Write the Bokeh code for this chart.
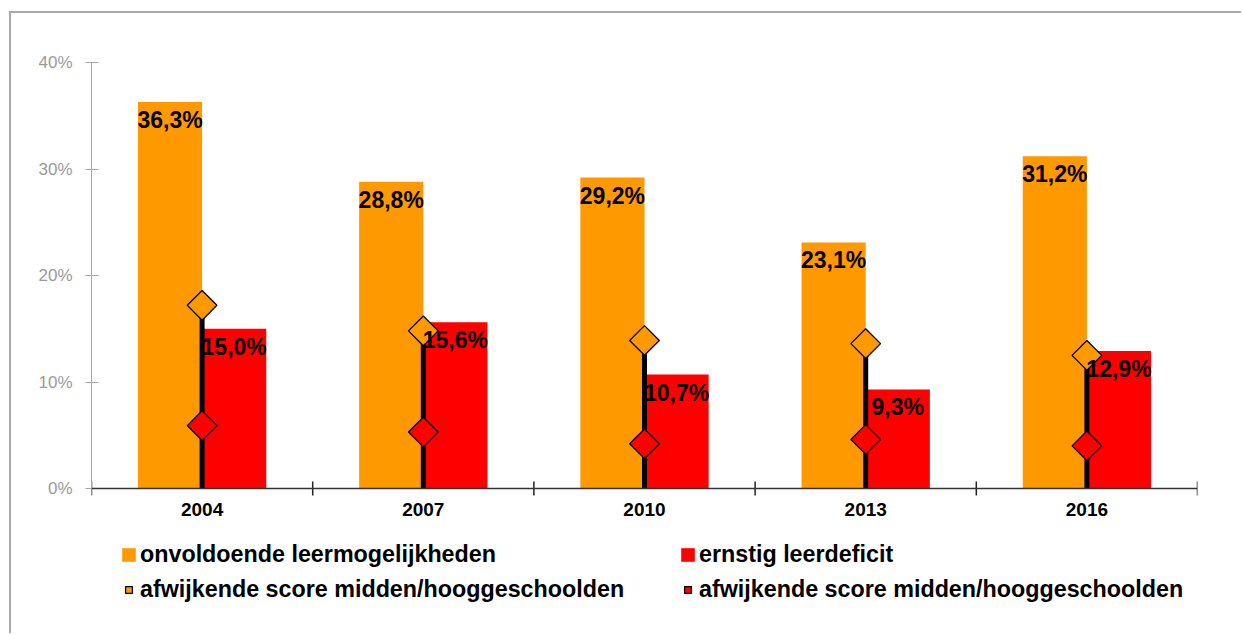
import math
from bokeh.plotting import figure
from bokeh.models import Range1d, FixedTicker, ColumnDataSource, Legend, LegendItem, Span
from bokeh.core.properties import value
from bokeh.embed import file_html
from bokeh.resources import INLINE

# ---- data ----
years = ["2004", "2007", "2010", "2013", "2016"]
onvoldoende = [36.3, 28.8, 29.2, 23.1, 31.2]          # onvoldoende leermogelijkheden (%)
ernstig = [15.0, 15.6, 10.7, 9.3, 12.9]               # ernstig leerdeficit (%)
afw_onvoldoende = [17.2, 14.8, 13.9, 13.6, 12.5]      # afwijkende score midden/hooggeschoolden (oranje)
afw_ernstig = [5.9, 5.3, 4.2, 4.6, 4.0]               # afwijkende score midden/hooggeschoolden (rood)
y_ticks = [0, 10, 20, 30, 40]

ORANGE = "#FF9900"
RED = "#FF0000"
FONT = "Liberation Sans"

n = len(years)
centers = [i + 0.5 for i in range(n)]
bounds = list(range(n + 1))
bar_w = 0.29


def fmt(v):
    return ("%.1f" % v).replace(".", ",") + "%"


src = ColumnDataSource(dict(
    xc=centers,
    xo=[c - bar_w / 2 for c in centers],
    xr=[c + bar_w / 2 for c in centers],
    onv=onvoldoende,
    ern=ernstig,
    afo=afw_onvoldoende,
    afr=afw_ernstig,
    zero=[0] * n,
    lo=[fmt(v) for v in onvoldoende],
    le=[fmt(v) for v in ernstig],
    yr=years,
))

# layout geometry (pixels)
W, H = 1232, 622
B_LEFT, B_RIGHT, B_TOP, B_BOTTOM = 80, 46, 49, 10
PX_PER_PCT = 426 / 40.0                      # 0% .. 40% spans 426 px
frame_h = H - B_TOP - B_BOTTOM
y_top = 40
y_bottom = y_top - frame_h / PX_PER_PCT      # room below 0 for labels and legend

p = figure(width=W, height=H, x_range=Range1d(0, n), y_range=Range1d(y_bottom, y_top),
           output_backend="svg", toolbar_location=None, x_axis_location=None,
           min_border_left=B_LEFT, min_border_right=B_RIGHT,
           min_border_top=B_TOP, min_border_bottom=B_BOTTOM,
           styles={"margin-top": "11px", "margin-left": "9px",
                   "border-top": "2px solid #a9a9a9", "border-left": "2px solid #a9a9a9"})
p.outline_line_color = None
p.grid.visible = False
p.background_fill_color = "white"
p.border_fill_color = "white"

r_onv = p.vbar(x="xo", width=bar_w, top="onv", bottom=0, source=src,
               fill_color=ORANGE, line_color=None)
r_ern = p.vbar(x="xr", width=bar_w, top="ern", bottom=0, source=src,
               fill_color=RED, line_color=None)

# category axis at 0%
p.add_layout(Span(location=0, dimension="width", line_color="#333333", line_width=1.5))
p.scatter(x=bounds, y=[0] * len(bounds), marker="dash", angle=math.pi / 2, size=14,
          line_color="#222222", line_width=1.5)
p.text(x="xc", y="zero", text="yr", source=src, text_align="center", text_baseline="top",
       y_offset=14, text_font=value(FONT), text_font_style="bold", text_font_size="19px",
       text_color="black")

p.segment(x0="xc", y0="zero", x1="xc", y1="afo", source=src, line_color="black", line_width=5)
r_afo = p.scatter(x="xc", y="afo", source=src, marker="square", size=21, angle=math.pi / 4,
                  fill_color=ORANGE, line_color="black", line_width=1.3)
r_afr = p.scatter(x="xc", y="afr", source=src, marker="square", size=21, angle=math.pi / 4,
                  fill_color=RED, line_color="black", line_width=1.3)

p.text(x="xo", y="onv", text="lo", source=src, text_align="center", text_baseline="top",
       y_offset=5, text_font=value(FONT), text_font_style="bold", text_font_size="23px",
       text_color="black")
p.text(x="xr", y="ern", text="le", source=src, text_align="center", text_baseline="top",
       y_offset=5, text_font=value(FONT), text_font_style="bold", text_font_size="23px",
       text_color="black")

# y axis
ya = p.yaxis[0]
ya.bounds = (0, 40)
ya.ticker = FixedTicker(ticks=y_ticks, minor_ticks=[])
ya.major_label_overrides = {t: "%d%%" % t for t in y_ticks}
ya.major_tick_in = 7
ya.major_tick_out = 6
ya.minor_tick_line_color = None
ya.axis_line_color = "#a6a6a6"
ya.major_tick_line_color = "#a6a6a6"
ya.major_label_standoff = 13
ya.major_label_text_font = FONT
ya.major_label_text_font_size = "17px"
ya.major_label_text_color = "#9a9a9a"

legend = Legend(items=[
    LegendItem(label="onvoldoende leermogelijkheden", renderers=[r_onv]),
    LegendItem(label="afwijkende score midden/hooggeschoolden", renderers=[r_afo]),
    LegendItem(label="ernstig leerdeficit", renderers=[r_ern]),
    LegendItem(label="afwijkende score midden/hooggeschoolden", renderers=[r_afr]),
], ncols=2, location=(29, 22), padding=0, margin=0, spacing=8,
    glyph_width=17, glyph_height=17, label_standoff=3, label_width=531, label_height=22,
    label_text_font=FONT, label_text_font_style="bold", label_text_font_size="23.3px",
    label_text_color="black", border_line_color=None, background_fill_alpha=0)
p.add_layout(legend, "center")

open("out.html", "w").write(file_html(p, INLINE))
